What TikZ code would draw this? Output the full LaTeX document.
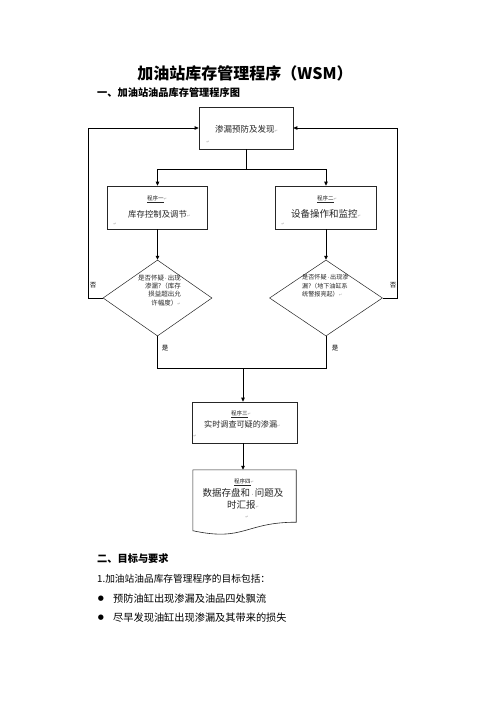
\documentclass[tikz,border=0pt]{standalone}
\usepackage{fontspec}
\setmainfont{Liberation Serif}
\newfontfamily\cjk{Noto Sans CJK SC}
\newfontfamily\symf{DejaVu Sans}
\usetikzlibrary{shapes.geometric,arrows.meta}
\newcommand\pmk{{\symf\color{black!35}\fontsize{4}{4}\selectfont ↵}}
\newcommand\fsz[1]{\fontsize{#1}{#1}\selectfont}
\newcommand\mdot{\,{\symf\fontsize{5}{5}\selectfont ·}\,}
\begin{document}
\begin{tikzpicture}[x=1pt,y=-1pt,
  box/.style={draw=black!85, line width=0.6pt, inner sep=0},
  conn/.style={line width=0.8pt},
  arr/.style={conn,-{Triangle[length=4pt,width=3.5pt]}},
  txt/.style={inner sep=0, font=\cjk, text=black!85},
  lab/.style={inner sep=0, font=\cjk\fsz{6.5}},
]
\useasboundingbox[fill=white] (0,0) rectangle (496,702);

% title and heading
\node[inner sep=0, font=\cjk\bfseries\fsz{16}] (title) at (245,73) {加油站库存管理程序（WSM）};
\node[inner sep=0, anchor=west, font=\cjk\bfseries\fsz{10.2}] (h1) at (97,93) {一、加油站油品库存管理程序图};

% flowchart boxes
\node[box, minimum width=94pt, minimum height=42pt] (top) at (246,128) {};
\node[box, minimum width=100pt, minimum height=43pt] (b1) at (157.5,207.5) {};
\node[box, minimum width=101pt, minimum height=43pt] (b2) at (326,207.5) {};
\node[draw=black!85, diamond, line width=0.5pt, inner sep=0, minimum width=109pt, minimum height=76pt] (d1) at (157.5,298) {};
\node[draw=black!85, diamond, line width=0.5pt, inner sep=0, minimum width=113pt, minimum height=76pt] (d2) at (326,298) {};
\node[box, minimum width=105pt, minimum height=41pt] (b3) at (244.5,422.5) {};
\node[inner sep=0, minimum width=103pt, minimum height=52pt] (doc) at (244.5,496) {};
\draw[draw=black!85, line width=0.6pt] (doc.north west) -- (doc.north east) -- (doc.south east)
  .. controls (doc.south) and ([yshift=-19.7pt]doc.south) .. ([yshift=-8.5pt]doc.south west) -- cycle;

% texts in boxes
\node[txt, anchor=west, font=\cjk\fsz{8.5}] (t0) at (215,129) {渗漏预防及发现\pmk};
\node[txt] (t0p) at (208,142) {\pmk};

\node[txt, font=\cjk\fsz{5.5}] (t1a) at (157,199) {\underline{程序一}\pmk};
\node[txt, anchor=west, font=\cjk\fsz{8.4}] (t1b) at (128,214) {库存控制及调节\pmk};
\node[txt] (t1c) at (115,224) {\pmk};

\node[txt, font=\cjk\fsz{5.5}] (t2a) at (327,199) {\underline{程序二}\pmk};
\node[txt, anchor=west, font=\cjk\fsz{9.5}] (t2b) at (291,214) {设备操作和监控\pmk};
\node[txt] (t2c) at (283,224) {\pmk};

\node[txt, anchor=north east, align=right, font=\cjk\fontsize{6.5}{8.3}\selectfont] (t5) at (181,274.5)
  {是否怀疑\mdot 出现\\渗漏?（库存\\损益超出允\\许幅度）\pmk};
\node[txt, anchor=north west, align=left, font=\cjk\fontsize{6.1}{8.5}\selectfont] (t6) at (302,274.5)
  {是否怀疑\mdot 出现渗\\漏?（地下油缸系\\统警报亮起）\pmk};

\node[txt, font=\cjk\fsz{5.5}] (t3a) at (241,414) {\underline{程序三}\pmk};
\node[txt, anchor=west, font=\cjk\fsz{8.1}] (t3b) at (204,424) {实时调查可疑的渗漏\pmk};
\node[txt] (t3c) at (195,436) {\pmk};

\node[txt, font=\cjk\fsz{5.5}] (t4a) at (244,482) {\underline{程序四}\pmk};
\node[txt, font=\cjk\fsz{9.5}] (t4b) at (243,493) {数据存盘和\mdot 问题及};
\node[txt, anchor=west, font=\cjk\fsz{9.5}] (t4c) at (227,505) {时汇报\pmk};
\node[txt] (t4d) at (247,517) {\pmk};

% connectors
\coordinate (j1) at (246,169);
\draw[conn] (top.south) -- (j1);
\draw[arr] (j1) -| (b1.north);
\draw[arr] (j1) -| (b2.north);
\draw[arr] (b1.south) -- (d1.north);
\draw[arr] (b2.south) -- (d2.north);
\coordinate (fl) at (88,298);
\coordinate (fr) at (397,298);
\draw[arr] (d1.west) -- (fl) |- (top.west);
\draw[arr] (d2.east) -- (fr) |- (top.east);
\coordinate (yl) at (157.5,368);
\coordinate (yr) at (326,368);
\coordinate (jm) at (243,368);
\draw[conn] (d1.south) -- (yl) -- (yr) -- (d2.south);
\draw[arr] (jm) -- (jm |- b3.north);
\draw[arr] (jm |- b3.south) -- (jm |- doc.north);

\node[lab] (no1) at (93,285) {否};
\node[lab] (no2) at (393,285) {否};
\node[lab] (yes1) at (165,348) {是};
\node[lab] (yes2) at (335,348) {是};

% bottom text
\node[inner sep=0, anchor=west, font=\cjk\bfseries\fsz{10.2}] (h2) at (97,559) {二、目标与要求};
\node[inner sep=0, anchor=west, font=\cjk\fsz{9.7}] (p1) at (97,579) {1.加油站油品库存管理程序的目标包括：};
\node[inner sep=0, font=\symf\fsz{7}] (bu1) at (101,599) {●};
\node[inner sep=0, anchor=west, font=\cjk\fsz{10.2}] (p2) at (113,599) {预防油缸出现渗漏及油品四处飘流};
\node[inner sep=0, font=\symf\fsz{7}] (bu2) at (101,618) {●};
\node[inner sep=0, anchor=west, font=\cjk\fsz{10.2}] (p3) at (113,618) {尽早发现油缸出现渗漏及其带来的损失};
\end{tikzpicture}
\end{document}
